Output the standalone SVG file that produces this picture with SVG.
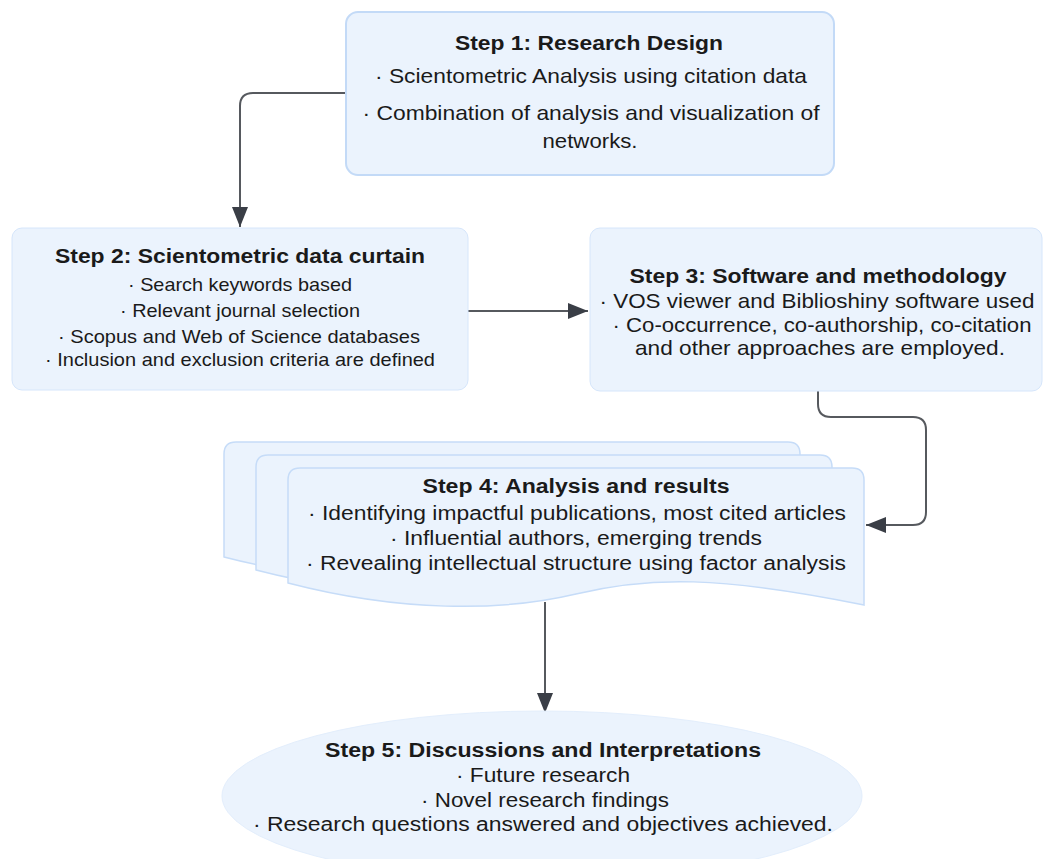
<svg xmlns="http://www.w3.org/2000/svg" width="1043" height="859" viewBox="0 0 1043 859">
<style>
.box{fill:#ebf3fd;stroke:#d6e6fb;stroke-width:1}
.box1{fill:#ebf3fd;stroke:#c3daf7;stroke-width:2}
.card{fill:#ebf3fd;stroke:#c6dcf8;stroke-width:1.5}
.ell{fill:#ebf3fd;stroke:#e3eefc;stroke-width:1}
text{font-family:"Liberation Sans",Arial,sans-serif;fill:#1a1a1a;text-anchor:middle}
.t{font-weight:bold;font-size:21px}
.b21{font-size:21px}
.b19{font-size:19px}
.b20{font-size:20px}
.t20{font-weight:bold;font-size:20px}
.conn{fill:none;stroke:#56595e;stroke-width:2}
</style>
<defs>
<marker id="ah" viewBox="0 0 20 16" refX="20" refY="8" markerWidth="20" markerHeight="16" markerUnits="userSpaceOnUse" orient="auto">
<path d="M0,0 L20,8 L0,16 Z" fill="#3a3e46"/>
</marker>
</defs>
<rect width="1043" height="859" fill="#ffffff"/>

<g id="connectors">
<path class="conn" d="M346,93 H253 Q240,93 240,106 V227" marker-end="url(#ah)"/>
<path class="conn" d="M468,311 H588" marker-end="url(#ah)"/>
<path class="conn" d="M818,391 V404 Q818,417 831,417 H913 Q926,417 926,430 V512 Q926,525 913,525 H866" marker-end="url(#ah)"/>
<path class="conn" d="M545,602 V713" marker-end="url(#ah)"/>
</g>

<g id="step1">
<rect class="box1" x="346" y="12" width="488" height="163" rx="12"/>
<text class="t" x="589" y="50" textLength="268" lengthAdjust="spacingAndGlyphs">Step 1: Research Design</text>
<text class="b21" x="591" y="83" textLength="432" lengthAdjust="spacingAndGlyphs">· Scientometric Analysis using citation data</text>
<text class="b21" x="591" y="120" textLength="457" lengthAdjust="spacingAndGlyphs">· Combination of analysis and visualization of</text>
<text class="b21" x="590" y="148" textLength="95" lengthAdjust="spacingAndGlyphs">networks.</text>
</g>

<g id="step2">
<rect class="box" x="12" y="228" width="456" height="162" rx="10"/>
<text class="t" x="240" y="263" textLength="370" lengthAdjust="spacingAndGlyphs">Step 2: Scientometric data curtain</text>
<text class="b19" x="240" y="291" textLength="224" lengthAdjust="spacingAndGlyphs">· Search keywords based</text>
<text class="b19" x="240" y="317" textLength="240" lengthAdjust="spacingAndGlyphs">· Relevant journal selection</text>
<text class="b19" x="239" y="343" textLength="362" lengthAdjust="spacingAndGlyphs">· Scopus and Web of Science databases</text>
<text class="b19" x="240" y="366" textLength="390" lengthAdjust="spacingAndGlyphs">· Inclusion and exclusion criteria are defined</text>
</g>

<g id="step3">
<rect class="box" x="590" y="228" width="452" height="163" rx="10"/>
<text class="t" x="818" y="283" textLength="377" lengthAdjust="spacingAndGlyphs">Step 3: Software and methodology</text>
<text class="b21" x="817" y="308" textLength="435" lengthAdjust="spacingAndGlyphs">· VOS viewer and Biblioshiny software used</text>
<text class="b21" x="822" y="332" textLength="419" lengthAdjust="spacingAndGlyphs">· Co-occurrence, co-authorship, co-citation</text>
<text class="b21" x="820" y="355" textLength="370" lengthAdjust="spacingAndGlyphs">and other approaches are employed.</text>
</g>

<g id="step4">
<path class="card" transform="translate(-64,-26)" d="M288,480 Q288,468 300,468 H852 Q864,468 864,480 V605 C720,576 650,576 576,594 C500,612 400,612 288,583 Z"/>
<path class="card" transform="translate(-32,-13)" d="M288,480 Q288,468 300,468 H852 Q864,468 864,480 V605 C720,576 650,576 576,594 C500,612 400,612 288,583 Z"/>
<path class="card" d="M288,480 Q288,468 300,468 H852 Q864,468 864,480 V605 C720,576 650,576 576,594 C500,612 400,612 288,583 Z"/>
<text class="t20" x="576" y="493" textLength="307" lengthAdjust="spacingAndGlyphs">Step 4: Analysis and results</text>
<text class="b20" x="577" y="520" textLength="538" lengthAdjust="spacingAndGlyphs">· Identifying impactful publications, most cited articles</text>
<text class="b20" x="576" y="545" textLength="372" lengthAdjust="spacingAndGlyphs">· Influential authors, emerging trends</text>
<text class="b20" x="576" y="570" textLength="540" lengthAdjust="spacingAndGlyphs">· Revealing intellectual structure using factor analysis</text>
</g>

<g id="step5">
<ellipse class="ell" cx="542" cy="796" rx="320" ry="85"/>
<text class="t20" x="543" y="757" textLength="436" lengthAdjust="spacingAndGlyphs">Step 5: Discussions and Interpretations</text>
<text class="b20" x="543" y="782" textLength="174" lengthAdjust="spacingAndGlyphs">· Future research</text>
<text class="b20" x="545" y="807" textLength="248" lengthAdjust="spacingAndGlyphs">· Novel research findings</text>
<text class="b20" x="543" y="831" textLength="580" lengthAdjust="spacingAndGlyphs">· Research questions answered and objectives achieved.</text>
</g>
</svg>
